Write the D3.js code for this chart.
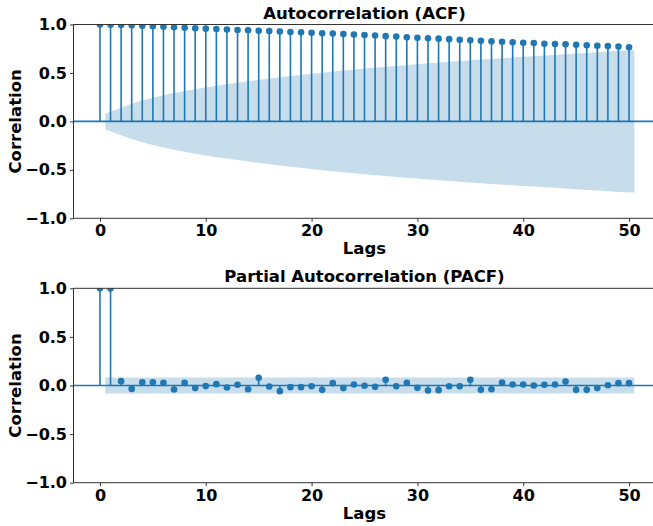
<!DOCTYPE html>
<html>
<head>
<meta charset="utf-8">
<script src="https://cdn.jsdelivr.net/npm/d3@7/dist/d3.min.js"></script>
<style>
body{margin:0;background:#fff;}
text{font-family:"DejaVu Sans",sans-serif;font-weight:bold;fill:#000;}
</style>
</head>
<body>
<svg id="chart" width="653" height="526"></svg>
<script>
// lags 0..50
const lags = [0,1,2,3,4,5,6,7,8,9,10,11,12,13,14,15,16,17,18,19,20,
    21,22,23,24,25,26,27,28,29,30,31,32,33,34,35,36,37,38,39,40,
    41,42,43,44,45,46,47,48,49,50];

const acfValues = [1.000,0.997,0.995,0.991,0.987,0.982,0.977,0.972,0.967,0.962,0.957,
    0.953,0.948,0.944,0.940,0.936,0.932,0.928,0.923,0.919,0.914,
    0.910,0.906,0.902,0.896,0.892,0.886,0.880,0.875,0.869,0.863,
    0.858,0.854,0.849,0.843,0.837,0.832,0.826,0.822,0.816,0.812,
    0.808,0.802,0.798,0.795,0.790,0.785,0.781,0.777,0.773,0.765];

// half width of the confidence band, lags 1..50
const acfConf = [0.082,0.142,0.182,0.216,0.244,0.269,0.292,0.314,0.333,0.351,
    0.369,0.384,0.399,0.415,0.428,0.442,0.455,0.468,0.479,0.492,
    0.503,0.514,0.525,0.534,0.545,0.555,0.564,0.573,0.582,0.590,
    0.599,0.607,0.615,0.623,0.631,0.639,0.645,0.652,0.660,0.667,
    0.672,0.679,0.686,0.692,0.700,0.707,0.714,0.721,0.728,0.735];

const pacfValues = [1.000,0.997,0.045,-0.035,0.034,0.034,0.027,-0.041,0.027,-0.027,-0.006,
    0.014,-0.020,0.007,-0.038,0.079,-0.010,-0.058,-0.017,-0.017,-0.007,
    -0.045,0.024,-0.027,0.010,-0.003,-0.014,0.058,-0.007,0.027,-0.024,
    -0.052,-0.048,-0.007,-0.007,0.058,-0.045,-0.038,0.031,0.010,0.010,
    0.000,0.007,0.010,0.041,-0.045,-0.045,-0.027,0.003,0.024,0.024];

const pacfConf = 0.082;

const xTicks = [0,10,20,30,40,50];
const yTicks = [-1.0,-0.5,0.0,0.5,1.0];

const blue = '#1f77b4';
const svg = d3.select('#chart');

const x = d3.scaleLinear().domain([-2.5, 52.5]).range([73.5, 655.5]);

function drawPanel(top, bottom, title, values, conf, id){
    const y = d3.scaleLinear().domain([-1, 1]).range([bottom, top]);
    const g = svg.append('g');

    g.append('clipPath').attr('id', id)
        .append('rect')
        .attr('x', x.range()[0]).attr('y', top)
        .attr('width', x.range()[1] - x.range()[0])
        .attr('height', bottom - top);

    const plot = g.append('g').attr('clip-path', 'url(#' + id + ')');

    // confidence band from lag 0.5 to 50.5
    const bandLags = lags.slice(1).map((d, i, a)=>{
        if(i == 0) return d - 0.5;
        if(i == a.length - 1) return d + 0.5;
        return d;
    });
    const area = d3.area()
        .x((d, i)=>x(bandLags[i]))
        .y0(d=>y(-d))
        .y1(d=>y(d));
    plot.append('path')
        .datum(bandLags.map((d, i)=>Array.isArray(conf)? conf[i] : conf))
        .attr('d', area)
        .style('fill', blue)
        .style('fill-opacity', 0.25);

    plot.append('line')
        .attr('x1', x.range()[0]).attr('x2', x.range()[1])
        .attr('y1', y(0)).attr('y2', y(0))
        .style('stroke', blue)
        .style('stroke-width', 1.6);

    plot.selectAll('.stem').data(values)
        .enter()
        .append('line')
        .attr('x1', (d, i)=>x(lags[i]))
        .attr('x2', (d, i)=>x(lags[i]))
        .attr('y1', y(0))
        .attr('y2', d=>y(d))
        .style('stroke', blue)
        .style('stroke-width', 1.6);

    plot.selectAll('.dot').data(values)
        .enter()
        .append('circle')
        .attr('cx', (d, i)=>x(lags[i]))
        .attr('cy', d=>y(d))
        .attr('r', 3.3)
        .style('fill', blue);

    // spines
    g.append('rect')
        .attr('x', x.range()[0]).attr('y', top)
        .attr('width', x.range()[1] - x.range()[0])
        .attr('height', bottom - top)
        .style('fill', 'none')
        .style('stroke', '#333')
        .style('stroke-width', 1);

    const xAxis = g.append('g')
        .attr('transform', 'translate(0,' + bottom + ')')
        .call(d3.axisBottom(x).tickValues(xTicks).tickSize(3.5).tickPadding(3));
    const yAxis = g.append('g')
        .attr('transform', 'translate(' + x.range()[0] + ',0)')
        .call(d3.axisLeft(y).tickValues(yTicks).tickFormat(d3.format('.1f')).tickSize(3.5).tickPadding(3));
    [xAxis, yAxis].forEach(a=>{
        a.select('.domain').remove();
        a.selectAll('.tick line').style('stroke', '#333');
        a.selectAll('.tick text').style('font-size', '16px').attr('font-family', null);
    });

    const cx = (x.range()[0] + x.range()[1]) / 2;
    g.append('text')
        .attr('x', cx).attr('y', top - 6)
        .attr('text-anchor', 'middle')
        .style('font-size', '16.5px')
        .text(title);

    g.append('text')
        .attr('x', cx).attr('y', bottom + 36)
        .attr('text-anchor', 'middle')
        .style('font-size', '16.5px')
        .text('Lags');

    g.append('text')
        .attr('transform', 'translate(21,' + ((top + bottom) / 2) + ') rotate(-90)')
        .attr('text-anchor', 'middle')
        .style('font-size', '16.5px')
        .text('Correlation');
}

drawPanel(24.5, 218.3, 'Autocorrelation (ACF)', acfValues, acfConf, 'clipAcf');
drawPanel(288.3, 482.7, 'Partial Autocorrelation (PACF)', pacfValues, pacfConf, 'clipPacf');
</script>
</body>
</html>
